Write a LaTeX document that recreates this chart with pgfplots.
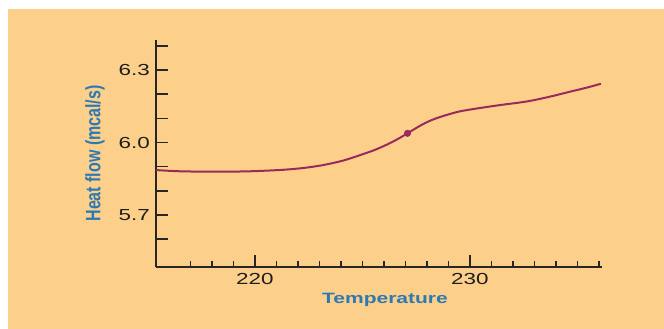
\documentclass[border=0pt]{standalone}
\usepackage{pgfplots}
\pgfplotsset{compat=1.18}
\usepackage{fontspec}
\setmainfont{Liberation Sans}
\newfontfamily\widesans[FakeStretch=1.4]{Liberation Sans}
\definecolor{bgorange}{HTML}{FCD08A}
\definecolor{curve}{HTML}{9A2A5C}
\definecolor{lblue}{HTML}{2E79B3}
\definecolor{tickgray}{HTML}{1E1E1E}
\begin{document}
\begin{tikzpicture}[x=1pt,y=1pt]
\fill[white] (0,0) rectangle (664,329);
\path[use as bounding box] (0,0) rectangle (664,329);
\fill[bgorange] (8,0) rectangle (664,320);
\begin{axis}[
  at={(156pt,62pt)}, anchor=south west,
  scale only axis, width=446pt, height=227pt,
  xmin=215.4, xmax=236.15, ymin=5.485, ymax=6.424,
  axis lines=left, axis line style={-, line width=1.8pt, color=black!85},
  clip=false,
  tick align=inside,
  xtick={220,230}, xticklabels={220,230},
  minor xtick={217,218,219,221,222,223,224,225,226,227,228,229,231,232,233,234,235,236},
  ytick={5.6,5.7,5.8,5.9,6.0,6.1,6.2,6.3,6.4},
  yticklabels={,5.7,,,6.0,,,6.3,},
  major tick length=11.5pt, minor tick length=5.5pt,
  every tick/.style={line width=1.5pt, color=black!85},
  /pgf/number format/assume math mode=true,
  xticklabel style={font=\widesans\fontsize{16}{16}\selectfont, text=tickgray, anchor=north, inner sep=0pt, yshift=-6pt},
  yticklabel style={font=\widesans\fontsize{16}{16}\selectfont, text=tickgray, anchor=east, inner sep=0pt, xshift=-6pt},
  xlabel={Temperature},
  ylabel={\scalebox{1}[1.3]{Heat flow (mcal/s)}},
  xlabel style={font=\bfseries\widesans\fontsize{15}{15}\selectfont, text=lblue, at={(rel axis cs:0.5,0)}, anchor=center, yshift=-33pt, xshift=6pt, inner sep=0pt},
  ylabel style={font=\bfseries\fontsize{16}{16}\selectfont, text=lblue, at={(rel axis cs:0,0.5)}, anchor=center, yshift=61pt, inner sep=0pt},
]
\addplot[curve, line width=2pt, smooth, tension=0.5] coordinates {
(215.4,5.886) (216.5,5.881) (218.2,5.879) (219.8,5.881) (221.3,5.887)
(222.3,5.895) (223.2,5.907) (224.1,5.925) (224.9,5.948) (225.6,5.970)
(226.3,5.998) (226.8,6.022) (227.1,6.038) (227.7,6.070) (228.1,6.088)
(228.6,6.105) (229.5,6.128) (230.5,6.143) (231.5,6.156) (232.6,6.169)
(233.6,6.187) (234.65,6.210) (235.4,6.226) (236.1,6.243)
};
\addplot[curve, only marks, mark=*, mark size=3.3pt] coordinates {(227.1,6.038)};
\end{axis}
\end{tikzpicture}
\end{document}
